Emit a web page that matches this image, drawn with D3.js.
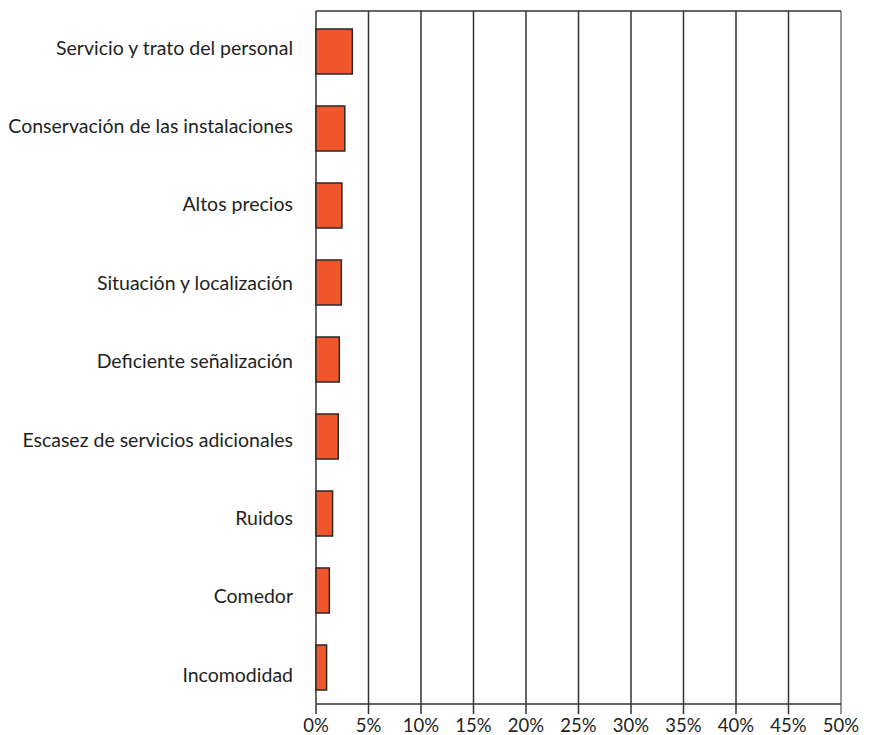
<!DOCTYPE html>
<html>
<head>
<meta charset="utf-8">
<script src="https://cdn.jsdelivr.net/npm/d3@7"></script>
<style>
  body { margin: 0; background: #fff; }
  svg text { font-family: Lato, "Open Sans", sans-serif; fill: #231f20; }
</style>
</head>
<body>
<div id="chart"></div>
<script>
const categories = [
  'Servicio y trato del personal',
  'Conservación de las instalaciones',
  'Altos precios',
  'Situación y localización',
  'Deficiente señalización',
  'Escasez de servicios adicionales',
  'Ruidos',
  'Comedor',
  'Incomodidad'
];
const values = [3.46, 2.74, 2.47, 2.41, 2.22, 2.12, 1.58, 1.27, 1.01];
const tickValues = [0, 5, 10, 15, 20, 25, 30, 35, 40, 45, 50];

const width = 873;
const height = 735;
const margin = { top: 11, right: 32, bottom: 31, left: 316 };
const usableArea = {
  top: margin.top,
  right: width - margin.right,
  bottom: height - margin.bottom,
  left: margin.left,
};

const svg = d3.select('#chart')
  .append('svg')
  .attr('width', width)
  .attr('height', height);

const xScale = d3.scaleLinear()
  .domain([0, 50])
  .range([usableArea.left, usableArea.right]);

const yScale = d3.scaleBand()
  .domain(categories)
  .range([usableArea.top + 2, usableArea.bottom + 2])
  .paddingInner(0.415)
  .paddingOuter(0.2075);

// labels sit on their own slightly wider spacing
const labelScale = d3.scalePoint()
  .domain(categories)
  .range([54.5, 681.7]);

// vertical gridlines + ticks below axis
svg.append('g')
  .selectAll('line')
  .data(tickValues)
  .join('line')
  .attr('x1', (d) => xScale(d))
  .attr('x2', (d) => xScale(d))
  .attr('y1', usableArea.top)
  .attr('y2', usableArea.bottom + 10)
  .attr('stroke', (d) => d === 50 ? '#777' : '#333')
  .attr('stroke-width', 1.5);

// top border and bottom axis line
svg.append('line')
  .attr('x1', usableArea.left).attr('x2', usableArea.right)
  .attr('y1', usableArea.top).attr('y2', usableArea.top)
  .attr('stroke', '#333').attr('stroke-width', 1.5);
svg.append('line')
  .attr('x1', usableArea.left).attr('x2', usableArea.right)
  .attr('y1', usableArea.bottom).attr('y2', usableArea.bottom)
  .attr('stroke', '#333').attr('stroke-width', 1.5);

// x tick labels
svg.append('g')
  .selectAll('text')
  .data(tickValues)
  .join('text')
  .attr('x', (d) => xScale(d))
  .attr('y', usableArea.bottom + 28)
  .attr('text-anchor', 'middle')
  .style('font-size', '18.5px')
  .text((d) => d + '%');

// bars
svg.append('g')
  .selectAll('rect')
  .data(values)
  .join('rect')
  .attr('x', xScale(0))
  .attr('y', (d, i) => yScale(categories[i]))
  .attr('width', (d) => xScale(d) - xScale(0))
  .attr('height', yScale.bandwidth())
  .attr('fill', '#f0562a')
  .attr('stroke', '#2b2b2b')
  .attr('stroke-width', 1.5);

// category labels
svg.append('g')
  .selectAll('text')
  .data(categories)
  .join('text')
  .attr('x', usableArea.left - 23)
  .attr('y', (d) => labelScale(d))
  .attr('text-anchor', 'end')
  .style('font-size', '19.5px')
  .text((d) => d);
</script>
</body>
</html>
